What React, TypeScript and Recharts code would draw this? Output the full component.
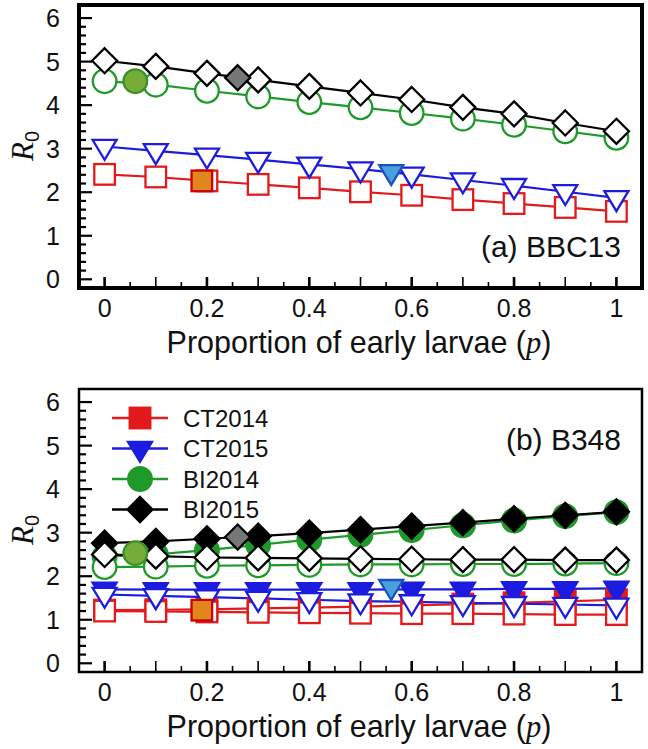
import React from "react";
import { ComposedChart, Line, XAxis, YAxis, ReferenceArea, Legend } from "recharts";

const pValues = [0, 0.1, 0.2, 0.3, 0.4, 0.5, 0.6, 0.7, 0.8, 0.9, 1];
const xTicks = [0, 0.05, 0.1, 0.15, 0.2, 0.25, 0.3, 0.35, 0.4, 0.45, 0.5, 0.55, 0.6, 0.65, 0.7, 0.75, 0.8, 0.85, 0.9, 0.95, 1];
const xLabelTicks = [0, 0.2, 0.4, 0.6, 0.8, 1];
const yTicks = [0, 0.2, 0.4, 0.6, 0.8, 1, 1.2, 1.4, 1.6, 1.8, 2, 2.2, 2.4, 2.6, 2.8, 3, 3.2, 3.4, 3.6, 3.8, 4, 4.2, 4.4, 4.6, 4.8, 5, 5.2, 5.4, 5.6, 5.8, 6];
const yLabelTicks = [0, 1, 2, 3, 4, 5, 6];
const seriesNames = ["CT2014", "CT2015", "BI2014", "BI2015"];

// (a) BBC13
const bbcCT2014 = [2.41, 2.35, 2.26, 2.18, 2.1, 2.01, 1.93, 1.83, 1.74, 1.65, 1.56];
const bbcCT2015 = [3.05, 2.95, 2.85, 2.75, 2.64, 2.53, 2.41, 2.28, 2.15, 2.01, 1.87];
const bbcBI2014 = [4.55, 4.47, 4.33, 4.2, 4.07, 3.95, 3.82, 3.69, 3.55, 3.4, 3.25];
const bbcBI2015 = [5.02, 4.89, 4.73, 4.58, 4.43, 4.28, 4.13, 3.95, 3.8, 3.59, 3.4];

// (b) B348: filled and open marker curves
const b348CT2014 = [1.22, 1.23, 1.24, 1.26, 1.28, 1.3, 1.33, 1.36, 1.39, 1.42, 1.46];
const b348CT2014Open = [1.2, 1.19, 1.18, 1.17, 1.16, 1.15, 1.14, 1.14, 1.13, 1.12, 1.12];
const b348CT2015 = [1.7, 1.69, 1.69, 1.69, 1.69, 1.69, 1.7, 1.7, 1.71, 1.71, 1.72];
const b348CT2015Open = [1.58, 1.55, 1.52, 1.49, 1.46, 1.43, 1.41, 1.39, 1.37, 1.35, 1.33];
const b348BI2014 = [2.45, 2.5, 2.6, 2.72, 2.84, 2.95, 3.06, 3.17, 3.28, 3.38, 3.47];
const b348BI2014Open = [2.21, 2.22, 2.24, 2.25, 2.26, 2.27, 2.27, 2.28, 2.28, 2.29, 2.3];
const b348BI2015 = [2.76, 2.8, 2.86, 2.92, 2.99, 3.07, 3.15, 3.23, 3.32, 3.4, 3.48];
const b348BI2015Open = [2.5, 2.46, 2.43, 2.42, 2.41, 2.4, 2.39, 2.38, 2.38, 2.37, 2.37];

// highlighted estimates (one per series)
const specialP = [0.19, 0.56, 0.06, 0.26];
const bbcSpecial = [2.26, 2.47, 4.55, 4.63];
const b348Special = [1.22, 1.76, 2.53, 2.9];

const FONT = "'Liberation Sans', Arial, Helvetica, sans-serif";
const RED = "#e31a1c";
const BLUE = "#1c1ce0";
const GREEN = "#1f9a2a";
const BLACK = "#000";
const COLORS = [RED, BLUE, GREEN, BLACK];
const SHAPES = ["square", "tri", "circle", "diamond"];
const SPECIAL_FILL = ["#e0861c", "#4aa0dc", "#76ad38", "#777"];
const SPECIAL_STROKE = ["#cc0000", "#1c4fc0", "#3d8f2a", "#000"];

const XMIN = -0.05, XMAX = 1.05, YMIN = -0.2, YMAX = 6.3;

function Marker({ cx, cy, shape, fill, stroke }: any) {
  if (cx == null || cy == null) return null;
  const sw = 2.3;
  if (shape === "square") {
    const s = 10.3;
    return <rect x={cx - s} y={cy - s} width={2 * s} height={2 * s} fill={fill} stroke={stroke} strokeWidth={sw} />;
  }
  if (shape === "circle") {
    return <circle cx={cx} cy={cy} r={11.8} fill={fill} stroke={stroke} strokeWidth={sw} />;
  }
  if (shape === "diamond") {
    const s = 12.5;
    return (
      <polygon
        points={`${cx},${cy - s} ${cx + s},${cy} ${cx},${cy + s} ${cx - s},${cy}`}
        fill={fill}
        stroke={stroke}
        strokeWidth={sw}
      />
    );
  }
  const w = 12, h = 20;
  return (
    <polygon
      points={`${cx - w},${cy - h / 3} ${cx + w},${cy - h / 3} ${cx},${cy + (2 * h) / 3}`}
      fill={fill}
      stroke={stroke}
      strokeWidth={sw}
    />
  );
}

const toRows = (vals: number[]) => pValues.map((p, i) => ({ p, v: vals[i] }));

function XTick({ x, y, payload }: any) {
  const v = payload.value;
  const tenth = Math.abs(v * 10 - Math.round(v * 10)) < 1e-6;
  const major = xLabelTicks.some((t) => Math.abs(t - v) < 1e-6);
  const len = tenth ? 11 : 6;
  return (
    <g>
      <line x1={x} y1={y} x2={x} y2={y - len} stroke="#000" strokeWidth={major ? 2.6 : 1.6} />
      {major && (
        <text x={x} y={y + 29} textAnchor="middle" fontFamily={FONT} fontSize={25} fill="#111">
          {String(v)}
        </text>
      )}
    </g>
  );
}

function YTick({ x, y, payload }: any) {
  const v = payload.value;
  const major = yLabelTicks.some((t) => Math.abs(t - v) < 1e-6);
  return (
    <g>
      <line x1={x} y1={y} x2={x + (major ? 13 : 7)} y2={y} stroke="#000" strokeWidth={2.2} />
      {major && (
        <text x={x - 19} y={y + 9} textAnchor="end" fontFamily={FONT} fontSize={25} fill="#111">
          {String(v)}
        </text>
      )}
    </g>
  );
}

function LegendBox() {
  return (
    <svg width={190} height={130}>
      {seriesNames.map((name, i) => {
        const y = 12 + i * 30.5;
        return (
          <g key={name}>
            <line x1={4} y1={y} x2={60} y2={y} stroke={COLORS[i]} strokeWidth={2.4} />
            <Marker cx={32} cy={y} shape={SHAPES[i]} fill={COLORS[i]} stroke={COLORS[i]} />
            <text x={75} y={y + 8.5} fontFamily={FONT} fontSize={24} fill="#111">
              {name}
            </text>
          </g>
        );
      })}
    </svg>
  );
}

type Curve = { vals: number[]; color: string; shape: string; filled: boolean };

function Panel({ curves, special, tag, tagY, frame, showLegend }: any) {
  return (
    <ComposedChart width={648} height={384} margin={{ top: 5, right: 6, bottom: 36, left: 0 }}>
      <XAxis
        dataKey="p"
        type="number"
        domain={[XMIN, XMAX]}
        ticks={xTicks}
        interval={0}
        tickSize={0}
        tickMargin={0}
        axisLine={false}
        tick={<XTick />}
        height={60}
        allowDuplicatedCategory={false}
      />
      <YAxis
        dataKey="v"
        type="number"
        domain={[YMIN, YMAX]}
        ticks={yTicks}
        interval={0}
        tickSize={0}
        tickMargin={0}
        axisLine={false}
        tick={<YTick />}
        width={79}
      />
      <ReferenceArea x1={XMIN} x2={XMAX} y1={YMIN} y2={YMAX} fill="none" stroke="#000" strokeWidth={frame[0]} ifOverflow="visible" />
      <ReferenceArea x1={XMIN} x2={XMIN} y1={YMIN} y2={YMAX} fill="none" stroke="#000" strokeWidth={frame[1]} ifOverflow="visible" />
      <ReferenceArea x1={XMIN} x2={XMAX} y1={YMIN} y2={YMIN} fill="none" stroke="#000" strokeWidth={frame[1]} ifOverflow="visible" />
      {curves.map((c: Curve, i: number) => (
        <Line
          key={i}
          data={toRows(c.vals)}
          dataKey="v"
          type="linear"
          stroke={c.color}
          strokeWidth={2.2}
          isAnimationActive={false}
          dot={(d: any) => (
            <Marker key={d.index} cx={d.cx} cy={d.cy} shape={c.shape} fill={c.filled ? c.color : "#fff"} stroke={c.color} />
          )}
          activeDot={false}
        />
      ))}
      {specialP.map((p, i) => (
        <Line
          key={"s" + i}
          data={[{ p, v: special[i] }]}
          dataKey="v"
          stroke="none"
          isAnimationActive={false}
          dot={(d: any) => (
            <Marker key={d.index} cx={d.cx} cy={d.cy} shape={SHAPES[i]} fill={SPECIAL_FILL[i]} stroke={SPECIAL_STROKE[i]} />
          )}
          activeDot={false}
        />
      ))}
      {showLegend && (
        <Legend
          layout="vertical"
          align="center"
          verticalAlign="middle"
          wrapperStyle={{ left: 108, top: 22, width: 190, height: 130 }}
          content={() => <LegendBox />}
        />
      )}
      <text x={621} y={tagY} textAnchor="end" fontFamily={FONT} fontSize={30} fill="#111">
        {tag}
      </text>
      <text transform="translate(33,146) rotate(-90)" textAnchor="middle" fill="#111">
        <tspan fontFamily="'Liberation Serif', 'DejaVu Serif', serif" fontStyle="italic" fontSize={31}>R</tspan>
        <tspan fontFamily={FONT} fontSize={20} dy={6}>0</tspan>
      </text>
      <text x={359} y={353} textAnchor="middle" fontFamily={FONT} fontSize={30.5} fill="#111">
        Proportion of early larvae (
        <tspan fontFamily="'Liberation Serif', serif" fontStyle="italic">p</tspan>)
      </text>
    </ComposedChart>
  );
}

const topCurves: Curve[] = [
  { vals: bbcCT2014, color: RED, shape: "square", filled: false },
  { vals: bbcCT2015, color: BLUE, shape: "tri", filled: false },
  { vals: bbcBI2014, color: GREEN, shape: "circle", filled: false },
  { vals: bbcBI2015, color: BLACK, shape: "diamond", filled: false },
];

const bottomCurves: Curve[] = [
  { vals: b348CT2014, color: RED, shape: "square", filled: true },
  { vals: b348CT2014Open, color: RED, shape: "square", filled: false },
  { vals: b348CT2015, color: BLUE, shape: "tri", filled: true },
  { vals: b348CT2015Open, color: BLUE, shape: "tri", filled: false },
  { vals: b348BI2014, color: GREEN, shape: "circle", filled: true },
  { vals: b348BI2014Open, color: GREEN, shape: "circle", filled: false },
  { vals: b348BI2015, color: BLACK, shape: "diamond", filled: true },
  { vals: b348BI2015Open, color: BLACK, shape: "diamond", filled: false },
];

export default function App() {
  return (
    <div style={{ position: "absolute", left: 0, top: 0, width: 648, height: 749, background: "#fff" }}>
      <div style={{ position: "absolute", left: 0, top: 0 }}>
        <Panel curves={topCurves} special={bbcSpecial} tag="(a) BBC13" tagY={257} frame={[4, 4]} />
      </div>
      <div style={{ position: "absolute", left: 0, top: 384 }}>
        <Panel curves={bottomCurves} special={b348Special} tag="(b) B348" tagY={66} frame={[2.5, 4.5]} showLegend />
      </div>
    </div>
  );
}
